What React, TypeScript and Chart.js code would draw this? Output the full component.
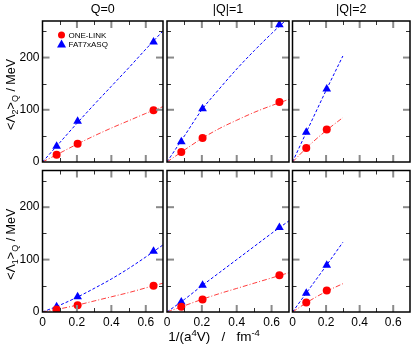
import React, { useEffect, useRef } from "react";
import { Chart, registerables } from "chart.js";
Chart.register(...registerables);

// ---------- data ----------
const xPoints = [0.082, 0.204, 0.645];
const xPointsQ2 = [0.082, 0.204];

// <Λ2>_Q row
const q0L2OneLink = [14, 35, 99];
const q0L2Fat7 = [30, 78, 230];
const q1L2OneLink = [19, 46, 115];
const q1L2Fat7 = [39, 102, 263];
const q2L2OneLink = [27, 62];
const q2L2Fat7 = [57, 140];

// <Λ1>_Q row
const q0L1OneLink = [5, 13, 50];
const q0L1Fat7 = [10, 29, 116];
const q1L1OneLink = [10, 24, 70];
const q1L1Fat7 = [19, 51, 161];
const q2L1OneLink = [18, 41];
const q2L1Fat7 = [36, 89];

// fit curves
const fitX = [0, 0.1, 0.2, 0.3, 0.4, 0.5, 0.6, 0.7];
const fitXQ2 = [0, 0.1, 0.2, 0.3];
const q0L2OneLinkFit = [0, 17, 34, 50, 65, 79, 93, 106];
const q0L2Fat7Fit = [0, 37, 74, 110, 145, 180, 216, 251];
const q1L2OneLinkFit = [0, 23, 45, 64, 80, 95, 108, 120];
const q1L2Fat7Fit = [0, 50, 100, 140, 178, 213, 246, 277];
const q2L2OneLinkFit = [0, 32, 60, 85];
const q2L2Fat7Fit = [0, 69, 137, 203];
const q0L1OneLinkFit = [0, 6, 13, 21, 29, 37, 46, 55];
const q0L1Fat7Fit = [0, 13, 28, 45, 63, 83, 105, 128];
const q1L1OneLinkFit = [0, 12, 24, 35, 45, 55, 65, 75];
const q1L1Fat7Fit = [0, 24, 50, 75, 100, 125, 150, 174];
const q2L1OneLinkFit = [0, 21, 39, 54];
const q2L1Fat7Fit = [0, 44, 88, 133];

const columnTitles = ["Q=0", "|Q|=1", "|Q|=2"];
const seriesLabels = ["ONE-LINK", "FAT7xASQ"];
const xTickValues = [0, 0.2, 0.4, 0.6];
const yTickValues = [0, 100, 200];
const xMajorTicks = [0.2, 0.4, 0.6];
const xMinorTicks = [0.1, 0.3, 0.5];
const yMajorTicks = [100, 200];
const yMinorTicks = [50, 150, 250];
const X_MAX = 0.7;
const Y_MAX = 270;

// ---------- layout ----------
const W = 415;
const H = 346;
const colLeft = [42.5, 167, 292.5];
const colRight = [163, 289, 414];
const rowTop = [21, 170.5];
const rowBottom = [162, 312];
const Y_AXIS_W = 30;
const X_AXIS_H = 20;
const FONT = '"Liberation Sans", Arial, Helvetica, sans-serif';
const RED = "#ff0000";
const BLUE = "#0000ff";

type Panel = {
  row: number;
  col: number;
  xs: number[];
  red: number[];
  blue: number[];
  fx: number[];
  fRed: number[];
  fBlue: number[];
  sub: string;
};

const panels: Panel[] = [
  { row: 0, col: 0, xs: xPoints, red: q0L2OneLink, blue: q0L2Fat7, fx: fitX, fRed: q0L2OneLinkFit, fBlue: q0L2Fat7Fit, sub: "2" },
  { row: 0, col: 1, xs: xPoints, red: q1L2OneLink, blue: q1L2Fat7, fx: fitX, fRed: q1L2OneLinkFit, fBlue: q1L2Fat7Fit, sub: "2" },
  { row: 0, col: 2, xs: xPointsQ2, red: q2L2OneLink, blue: q2L2Fat7, fx: fitXQ2, fRed: q2L2OneLinkFit, fBlue: q2L2Fat7Fit, sub: "2" },
  { row: 1, col: 0, xs: xPoints, red: q0L1OneLink, blue: q0L1Fat7, fx: fitX, fRed: q0L1OneLinkFit, fBlue: q0L1Fat7Fit, sub: "1" },
  { row: 1, col: 1, xs: xPoints, red: q1L1OneLink, blue: q1L1Fat7, fx: fitX, fRed: q1L1OneLinkFit, fBlue: q1L1Fat7Fit, sub: "1" },
  { row: 1, col: 2, xs: xPointsQ2, red: q2L1OneLink, blue: q2L1Fat7, fx: fitXQ2, fRed: q2L1OneLinkFit, fBlue: q2L1Fat7Fit, sub: "1" },
];

type Seg = { t: string; s: number; dy?: number };

function drawRich(ctx: CanvasRenderingContext2D, segs: Seg[], cx: number, baseY: number, rotate: boolean) {
  ctx.save();
  ctx.translate(cx, baseY);
  if (rotate) ctx.rotate(-Math.PI / 2);
  ctx.textBaseline = "alphabetic";
  ctx.textAlign = "left";
  ctx.fillStyle = "#000";
  let total = 0;
  const widths = segs.map((sg) => {
    ctx.font = `${sg.s}px ${FONT}`;
    const w = ctx.measureText(sg.t).width;
    total += w;
    return w;
  });
  let x = -total / 2;
  segs.forEach((sg, i) => {
    ctx.font = `${sg.s}px ${FONT}`;
    ctx.fillText(sg.t, x, sg.dy || 0);
    x += widths[i];
  });
  ctx.restore();
}

const decorPlugin = {
  id: "decor",
  afterDraw(chart: any, _args: any, opts: any) {
    const ctx: CanvasRenderingContext2D = chart.ctx;
    const { left, right, top, bottom } = chart.chartArea;
    const xs = chart.scales.x;
    const ys = chart.scales.y;
    ctx.save();
    const line = (x1: number, y1: number, x2: number, y2: number) => {
      ctx.beginPath();
      ctx.moveTo(x1, y1);
      ctx.lineTo(x2, y2);
      ctx.stroke();
    };
    // major ticks (grey, inward)
    ctx.strokeStyle = "#8a8a8a";
    ctx.lineWidth = 2;
    xMajorTicks.forEach((v) => {
      const p = xs.getPixelForValue(v);
      line(p, bottom, p, bottom - 7);
      line(p, top, p, top + 7);
    });
    yMajorTicks.forEach((v) => {
      const p = ys.getPixelForValue(v);
      line(left, p, left + 7, p);
      line(right, p, right - 7, p);
    });
    // minor ticks
    ctx.strokeStyle = "#333";
    ctx.lineWidth = 1;
    xMinorTicks.forEach((v) => {
      const p = Math.round(xs.getPixelForValue(v)) + 0.5;
      line(p, bottom, p, bottom - 4);
      line(p, top, p, top + 4);
    });
    yMinorTicks.forEach((v) => {
      const p = Math.round(ys.getPixelForValue(v)) + 0.5;
      line(left, p, left + 4, p);
      line(right, p, right - 4, p);
    });
    // frame
    ctx.strokeStyle = "#000";
    ctx.lineWidth = 1.5;
    ctx.strokeRect(left, top, right - left, bottom - top);

    // column title
    if (opts.colTitle) {
      drawRich(ctx, [{ t: opts.colTitle, s: 12.5 }], (left + right) / 2, 12.5, false);
    }
    // y title
    if (opts.ySub) {
      drawRich(
        ctx,
        [
          { t: "<Λ", s: 12.5 },
          { t: opts.ySub, s: 9, dy: 3 },
          { t: ">", s: 12.5 },
          { t: "Q", s: 9, dy: 3 },
          { t: " / MeV", s: 12.5 },
        ],
        15,
        (top + bottom) / 2 + 3,
        true
      );
    }
    // x title
    if (opts.xTitle) {
      drawRich(
        ctx,
        [
          { t: "1/(a", s: 13.5 },
          { t: "4", s: 9.5, dy: -5 },
          { t: "V)   /   fm", s: 13.5 },
          { t: "-4", s: 9.5, dy: -5 },
        ],
        214,
        341,
        false
      );
    }
    // legend
    if (opts.legend) {
      const ds = chart.data.datasets;
      const mx = left + 19;
      const y1 = top + 14;
      const y2 = top + 23;
      ctx.fillStyle = RED;
      ctx.beginPath();
      ctx.arc(mx, y1, 3.5, 0, Math.PI * 2);
      ctx.fill();
      ctx.fillStyle = BLUE;
      ctx.beginPath();
      ctx.moveTo(mx, y2 - 4.5);
      ctx.lineTo(mx + 4.5, y2 + 3.5);
      ctx.lineTo(mx - 4.5, y2 + 3.5);
      ctx.closePath();
      ctx.fill();
      ctx.fillStyle = "#000";
      ctx.font = `8px ${FONT}`;
      ctx.textBaseline = "middle";
      ctx.textAlign = "left";
      ctx.fillText(ds[0].label, mx + 7, y1 + 0.5);
      ctx.fillText(ds[1].label, mx + 7, y2 + 0.5);
    }
    ctx.restore();
  },
};

function makeConfig(p: Panel): any {
  const left = colLeft[p.col];
  const right = colRight[p.col];
  const top = rowTop[p.row];
  const bottom = rowBottom[p.row];
  return {
    type: "scatter",
    data: {
      datasets: [
        {
          label: seriesLabels[0],
          data: p.xs.map((x, i) => ({ x, y: p.red[i] })),
          pointStyle: "circle",
          pointRadius: 4,
          backgroundColor: RED,
          borderColor: RED,
          borderWidth: 0,
          showLine: false,
        },
        {
          label: seriesLabels[1],
          data: p.xs.map((x, i) => ({ x, y: p.blue[i] })),
          pointStyle: "triangle",
          pointRadius: 5,
          backgroundColor: BLUE,
          borderColor: BLUE,
          borderWidth: 0,
          showLine: false,
        },
        {
          label: "fit " + seriesLabels[0],
          data: p.fx.map((x, i) => ({ x, y: p.fRed[i] })),
          showLine: true,
          pointRadius: 0,
          borderColor: "rgba(255,40,40,0.9)",
          borderWidth: 1,
          borderDash: [5, 2, 1, 2],
          cubicInterpolationMode: "monotone",
          fill: false,
          clip: 0,
        },
        {
          label: "fit " + seriesLabels[1],
          data: p.fx.map((x, i) => ({ x, y: p.fBlue[i] })),
          showLine: true,
          pointRadius: 0,
          borderColor: BLUE,
          borderWidth: 1,
          borderDash: [3, 2],
          cubicInterpolationMode: "monotone",
          fill: false,
          clip: 0,
        },
      ],
    },
    options: {
      responsive: false,
      animation: false,
      events: [],
      layout: {
        padding: {
          left: left - Y_AXIS_W,
          right: W - right,
          top: top,
          bottom: H - bottom - X_AXIS_H,
        },
      },
      plugins: {
        legend: { display: false },
        tooltip: { enabled: false },
        title: { display: false },
        decor: {
          colTitle: p.row === 0 ? columnTitles[p.col] : null,
          ySub: p.col === 0 ? p.sub : null,
          xTitle: p.row === 1 && p.col === 1,
          legend: p.row === 0 && p.col === 0,
        },
      },
      scales: {
        x: {
          type: "linear",
          position: "bottom",
          min: 0,
          max: X_MAX,
          grid: { display: false, drawTicks: false },
          border: { display: false },
          ticks: {
            display: p.row === 1,
            color: "#000",
            padding: 3,
            font: { family: FONT, size: 12 },
            callback: (v: number) => (v === 0 ? "0" : v.toFixed(1)),
          },
          afterBuildTicks: (s: any) => {
            s.ticks = xTickValues.map((v) => ({ value: v }));
          },
          afterFit: (s: any) => {
            s.height = X_AXIS_H;
          },
        },
        y: {
          type: "linear",
          position: "left",
          min: 0,
          max: Y_MAX,
          grid: { display: false, drawTicks: false },
          border: { display: false },
          ticks: {
            display: p.col === 0,
            color: "#000",
            padding: 3,
            font: { family: FONT, size: 12 },
            callback: (v: number) => String(v),
          },
          afterBuildTicks: (s: any) => {
            s.ticks = yTickValues.map((v) => ({ value: v }));
          },
          afterFit: (s: any) => {
            s.width = Y_AXIS_W;
          },
        },
      },
    },
    plugins: [decorPlugin],
  };
}

export default function App() {
  const refs = useRef<(HTMLCanvasElement | null)[]>([]);
  useEffect(() => {
    const charts = panels.map((p, i) => new Chart(refs.current[i] as HTMLCanvasElement, makeConfig(p)));
    return () => charts.forEach((c) => c.destroy());
  }, []);
  return (
    <div style={{ position: "absolute", left: 0, top: 0, width: W, height: H, background: "#fff" }}>
      {panels.map((_, i) => (
        <canvas
          key={i}
          ref={(el) => {
            refs.current[i] = el;
          }}
          width={W}
          height={H}
          style={{ position: "absolute", left: 0, top: 0, width: W, height: H }}
        />
      ))}
    </div>
  );
}
